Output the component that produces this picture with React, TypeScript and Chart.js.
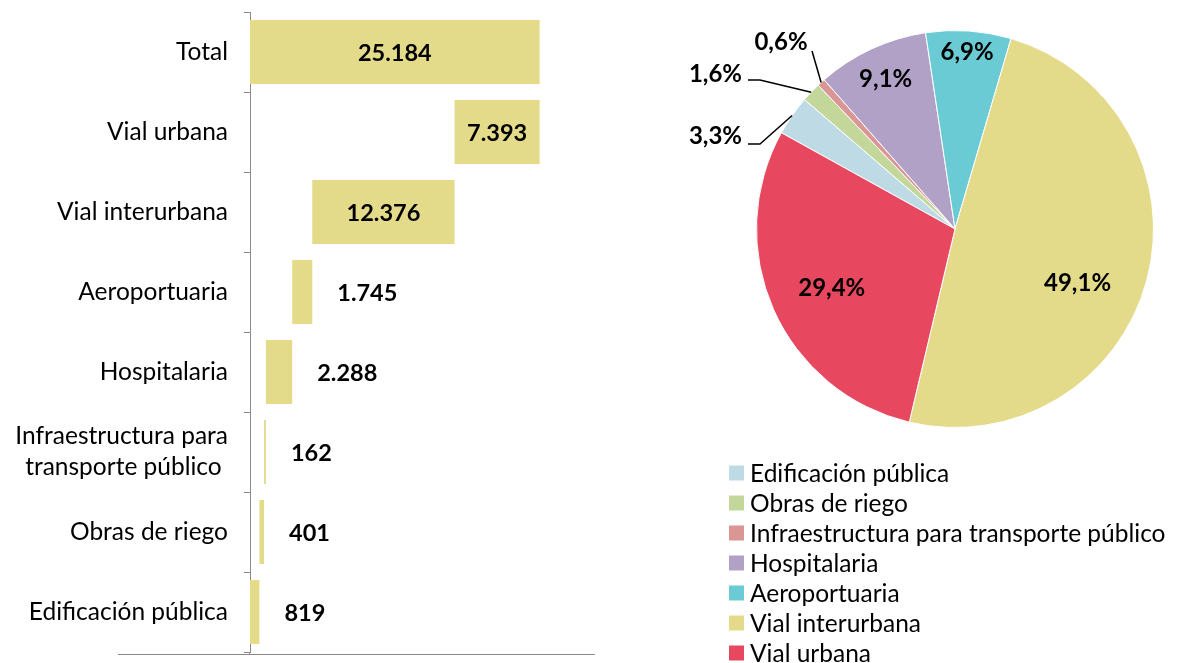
import React, { useEffect, useRef } from 'react';
import { Chart, registerables } from 'chart.js';

Chart.register(...registerables);

// ---------- data ----------
const componentNames = [
  'Edificación pública',
  'Obras de riego',
  'Infraestructura para transporte público',
  'Hospitalaria',
  'Aeroportuaria',
  'Vial interurbana',
  'Vial urbana',
];
const componentValues = [819, 401, 162, 2288, 1745, 12376, 7393];
const totalValue = 25184;
const barCategories: (string | string[])[] = [
  'Total',
  'Vial urbana',
  'Vial interurbana',
  'Aeroportuaria',
  'Hospitalaria',
  ['Infraestructura para', 'transporte público '],
  'Obras de riego',
  'Edificación pública',
];
const xAxisMax = 30000;
const pieColors = ['#BEDBE5', '#C4D79B', '#D99694', '#B2A1C7', '#6BCBD5', '#E3DA8A', '#E8485F'];
const barColor = '#E3DA8A';

// ---------- style ----------
const FONT = 'Lato, "Noto Sans", sans-serif';
const AXIS_GREY = '#8A8A8A';

const fmtThousands = (v: number) => String(v).replace(/\B(?=(\d{3})+(?!\d))/g, '.');
const fmtPct = (v: number, t: number) => (v / t * 100).toFixed(1).replace('.', ',') + '%';

// waterfall ranges (top to bottom: Total, then components in reverse)
const buildRanges = () => {
  let acc = 0;
  const comp = componentValues.map((v) => {
    const s = acc;
    acc += v;
    return [s, acc];
  });
  return [[0, totalValue], ...comp.slice().reverse()];
};
const barValues = [totalValue, ...componentValues.slice().reverse()];

// pie label layout (relative to pie centre); index -> placement
const pieLabelPlacement: any[] = [
  { out: true, elbow: [-195, -85], end: [-207, -85], text: [-213, -93], align: 'right' },
  { out: true, elbow: [-195, -149], end: [-207, -149], text: [-213, -155], align: 'right' },
  { out: true, elbow: null, end: [-143, -178], text: [-174, -187], align: 'center' },
  { out: false, f: 0.83, da: 0 },
  { out: false, f: 0.89, da: 0 },
  { out: false, f: 0.675, da: 9 },
  { out: false, f: 0.69, da: -2 },
];

export default function App() {
  const barRef = useRef<HTMLCanvasElement | null>(null);
  const pieRef = useRef<HTMLCanvasElement | null>(null);

  useEffect(() => {
    const ranges = buildRanges();

    const barLabelPlugin = {
      id: 'barLabels',
      afterDatasetsDraw(chart: any) {
        const ctx = chart.ctx;
        const meta = chart.getDatasetMeta(0);
        ctx.save();
        ctx.font = `bold 23.5px ${FONT}`;
        ctx.fillStyle = '#000';
        ctx.textBaseline = 'middle';
        meta.data.forEach((el: any, i: number) => {
          const p = el.getProps(['x', 'y', 'base'], true);
          const txt = fmtThousands(barValues[i]);
          const w = ctx.measureText(txt).width;
          const left = Math.min(p.x, p.base);
          const right = Math.max(p.x, p.base);
          if (right - left > w + 12) {
            ctx.textAlign = 'center';
            ctx.fillText(txt, (left + right) / 2, p.y + 1);
          } else {
            ctx.textAlign = 'left';
            ctx.fillText(txt, right + 25, p.y + 1);
          }
        });
        ctx.restore();
      },
      afterDraw(chart: any) {
        const ctx = chart.ctx;
        const area = chart.chartArea;
        ctx.save();
        ctx.strokeStyle = AXIS_GREY;
        ctx.lineWidth = 1;
        ctx.beginPath();
        ctx.moveTo(118, area.bottom + 2.5);
        ctx.lineTo(area.right, area.bottom + 2.5);
        ctx.moveTo(area.left - 0.5, area.bottom);
        ctx.lineTo(area.left - 0.5, area.bottom + 3);
        ctx.stroke();
        ctx.restore();
      },
    };

    const barChart = new Chart(barRef.current as HTMLCanvasElement, {
      type: 'bar',
      data: {
        labels: barCategories as any,
        datasets: [
          {
            data: ranges as any,
            backgroundColor: barColor,
            borderWidth: 0,
            barPercentage: 0.8,
            categoryPercentage: 1.0,
          },
        ],
      },
      options: {
        indexAxis: 'y',
        responsive: false,
        animation: false,
        layout: { padding: { left: 0, right: 25, top: 12, bottom: 11 } },
        plugins: { legend: { display: false }, tooltip: { enabled: false } },
        scales: {
          x: { display: false, min: 0, max: xAxisMax },
          y: {
            afterFit: (s: any) => {
              s.width = 250;
              s.paddingTop = 0;
              s.paddingBottom = 0;
            },
            border: { color: AXIS_GREY, width: 1 },
            grid: { drawOnChartArea: false, tickLength: 6, color: AXIS_GREY, offset: true },
            ticks: {
              color: '#000',
              padding: 16,
              autoSkip: false,
              font: { family: FONT, size: 24.5, lineHeight: 1.27 },
            },
          },
        },
      } as any,
      plugins: [barLabelPlugin],
    });

    const pieDecor = {
      id: 'pieDecor',
      afterDatasetsDraw(chart: any) {
        const ctx = chart.ctx;
        const meta = chart.getDatasetMeta(0);
        const vals = chart.data.datasets[0].data as number[];
        const tot = vals.reduce((a: number, b: number) => a + b, 0);
        ctx.save();
        ctx.font = `bold 24px ${FONT}`;
        ctx.fillStyle = '#000';
        ctx.strokeStyle = '#000';
        ctx.lineWidth = 1.5;
        ctx.textBaseline = 'middle';
        meta.data.forEach((el: any, i: number) => {
          const p = el.getProps(['x', 'y', 'startAngle', 'endAngle', 'outerRadius'], true);
          const mid = (p.startAngle + p.endAngle) / 2;
          const txt = fmtPct(vals[i], tot);
          const pl = pieLabelPlacement[i];
          if (!pl.out) {
            const a = mid + (pl.da * Math.PI) / 180;
            ctx.textAlign = 'center';
            ctx.fillText(txt, p.x + Math.cos(a) * p.outerRadius * pl.f, p.y + Math.sin(a) * p.outerRadius * pl.f);
          } else {
            const ex = p.x + Math.cos(mid) * p.outerRadius;
            const ey = p.y + Math.sin(mid) * p.outerRadius;
            ctx.beginPath();
            ctx.moveTo(ex, ey);
            if (pl.elbow) ctx.lineTo(p.x + pl.elbow[0], p.y + pl.elbow[1]);
            ctx.lineTo(p.x + pl.end[0], p.y + pl.end[1]);
            ctx.stroke();
            ctx.textAlign = pl.align;
            ctx.fillText(txt, p.x + pl.text[0], p.y + pl.text[1]);
          }
        });
        ctx.restore();
      },
      afterDraw(chart: any) {
        const ctx = chart.ctx;
        const labels = chart.data.labels as string[];
        const colors = chart.data.datasets[0].backgroundColor as string[];
        ctx.save();
        ctx.font = `24.5px ${FONT}`;
        ctx.textBaseline = 'middle';
        ctx.textAlign = 'left';
        labels.forEach((lab: string, i: number) => {
          const cy = 473 + 30 * i;
          ctx.fillStyle = colors[i];
          ctx.fillRect(109, cy - 7.5, 15, 15);
          ctx.fillStyle = '#000';
          ctx.fillText(lab, 130, cy + 1);
        });
        ctx.restore();
      },
    };

    const pieChart = new Chart(pieRef.current as HTMLCanvasElement, {
      type: 'pie',
      data: {
        labels: componentNames,
        datasets: [
          {
            data: componentValues,
            backgroundColor: pieColors,
            borderColor: '#FFFFFF',
            borderWidth: 1,
          },
        ],
      },
      options: {
        responsive: false,
        animation: false,
        rotation: 299,
        layout: { padding: { left: 136, right: 23, top: 30, bottom: 235 } },
        plugins: { legend: { display: false }, tooltip: { enabled: false } },
      } as any,
      plugins: [pieDecor],
    });

    return () => {
      barChart.destroy();
      pieChart.destroy();
    };
  }, []);

  return (
    <div style={{ position: 'fixed', left: 0, top: 0, width: 1177, height: 663, background: '#fff' }}>
      <canvas ref={barRef} width={620} height={663} style={{ position: 'absolute', left: 0, top: 0 }} />
      <canvas ref={pieRef} width={557} height={663} style={{ position: 'absolute', left: 620, top: 0 }} />
    </div>
  );
}
